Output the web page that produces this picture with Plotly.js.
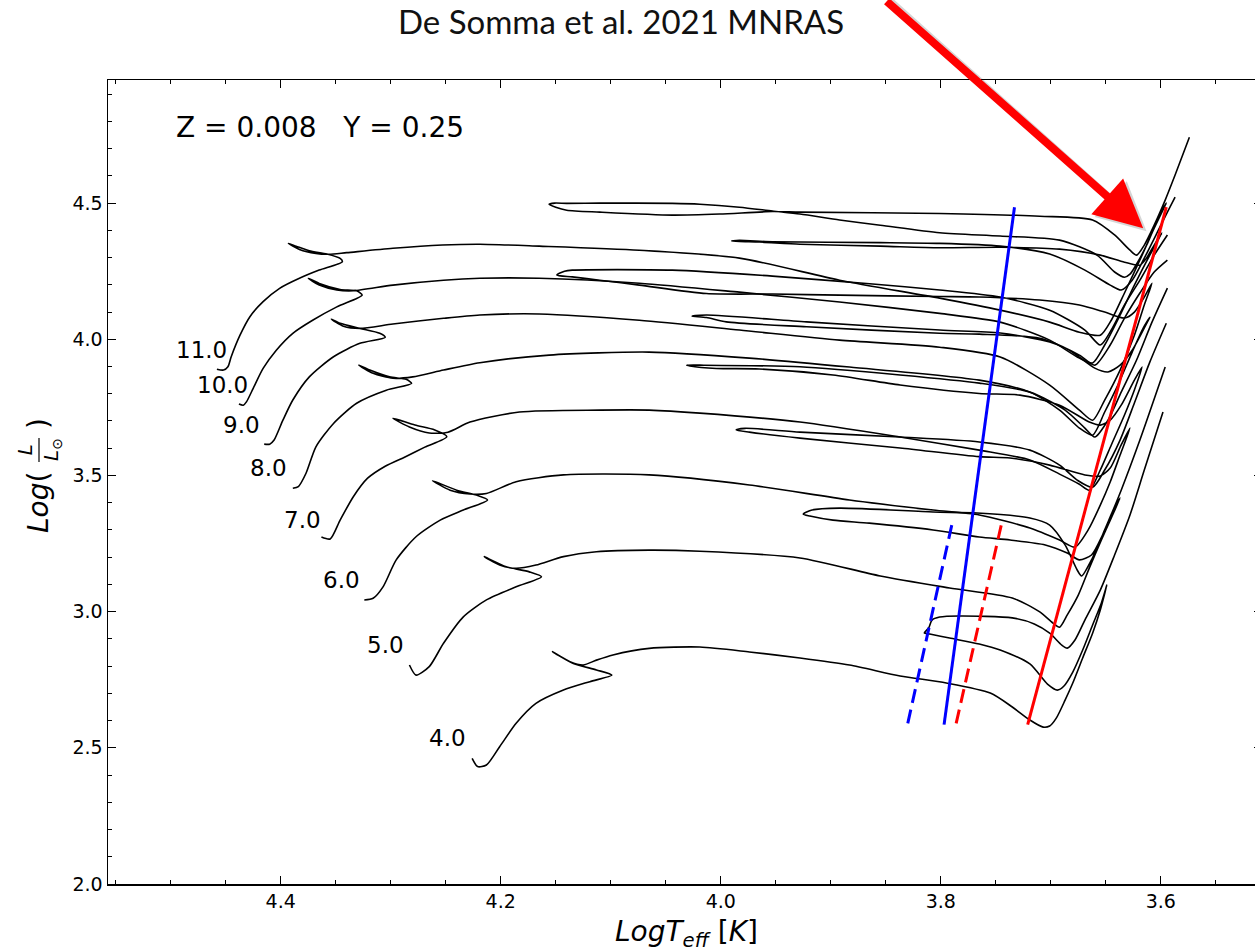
<!DOCTYPE html>
<html>
<head>
<meta charset="utf-8">
<script src="https://cdn.plot.ly/plotly-3.0.1.min.js"></script>
<style>
  html, body { margin: 0; padding: 0; overflow: hidden; background: #ffffff; }
  #hr { width: 1265px; height: 951px; }
</style>
</head>
<body>
<div id="hr"></div>
<script>
// Evolutionary tracks, Z = 0.008, Y = 0.25 (log Teff, log L/Lsun)
const m4_logT = [4.226,4.221,4.213,4.201,4.186,4.168,4.143,4.119,4.099, 4.113,4.134,4.153, 4.137,4.125,4.113,4.098,4.065,
  4.019,3.974,3.928,3.883,3.837,3.795,3.755,3.735,3.719,3.707, 3.701,3.695,3.687,3.680,3.671,3.662,3.655,3.649,
  3.654,3.662,3.671,3.680,3.688,3.694,3.703,3.719,3.746,3.765,3.792,3.810,3.815,
  3.811,3.808,3.801,3.783,3.735,3.715,3.701,3.690,3.685, 3.678,3.669,3.655,3.642,3.628,3.615,3.598];
const m4_logL = [2.461,2.431,2.437,2.504,2.590,2.663,2.712,2.743,2.767, 2.786,2.810,2.853, 2.816,2.804,2.822,2.841,2.865,
  2.870,2.852,2.830,2.804,2.764,2.738,2.701,2.650,2.602,2.576, 2.580,2.609,2.675,2.738,2.830,2.921,3.006,3.098,
  3.032,2.951,2.859,2.778,2.727,2.712,2.734,2.808,2.859,2.881,2.903,2.918,2.922,
  2.940,2.969,2.980,2.984,2.977,2.955,2.921,2.877,2.866, 2.896,2.969,3.079,3.208,3.355,3.520,3.733];

const m5_logT = [4.283,4.277,4.265,4.252,4.234,4.213,4.186,4.163, 4.174,4.195,4.215, 4.201,4.186,4.168,4.143,4.113,4.065,
  4.019,3.928,3.855,3.792,3.735,3.710,3.698,3.692, 3.685,3.675,3.665,3.654,3.645,3.637,
  3.644,3.653,3.663,3.674,3.685,3.705,3.737,3.765,3.807,3.865,3.898,3.919,3.925,
  3.917,3.892,3.807,3.767,3.719,3.701,3.687,3.676,3.672, 3.663,3.651,3.636,3.619,3.596];
const m5_logL = [2.804,2.767,2.798,2.884,2.981,3.043,3.091,3.128, 3.146,3.165,3.202, 3.171,3.159,3.171,3.202,3.220,3.226,
  3.222,3.197,3.131,3.087,3.050,2.999,2.958,2.943, 2.988,3.061,3.160,3.263,3.344,3.417,
  3.366,3.281,3.208,3.190,3.215,3.245,3.263,3.274,3.300,3.325,3.336,3.351,3.358,
  3.373,3.380,3.366,3.362,3.344,3.318,3.245,3.153,3.131, 3.190,3.300,3.446,3.630,3.898];

const m6_logT = [4.324,4.316,4.307,4.295,4.277,4.255,4.234,4.212, 4.222,4.240,4.262, 4.246,4.228,4.213,4.186,4.143,4.065,
  3.974,3.883,3.807,3.765,3.719,3.692,3.678, 3.666,3.655,3.646,3.637,3.628,
  3.636,3.646,3.655,3.669,3.701,3.737,3.765,3.837,3.928,3.974,3.986,
  3.978,3.928,3.837,3.765,3.719,3.692,3.676,3.662, 3.651,3.637,3.624,3.610,3.595];
const m6_logL = [3.043,3.049,3.091,3.190,3.275,3.336,3.373,3.410, 3.428,3.446,3.481, 3.446,3.432,3.434,3.477,3.502,3.502,
  3.465,3.410,3.373,3.355,3.307,3.263,3.237, 3.300,3.391,3.476,3.575,3.674,
  3.612,3.527,3.498,3.502,3.538,3.564,3.569,3.601,3.637,3.659,3.667,
  3.673,3.659,3.641,3.623,3.593,3.538,3.483,3.457, 3.520,3.630,3.766,3.916,4.059];

const m7_logT = [4.363,4.355,4.346,4.334,4.321,4.305,4.287,4.269,4.249, 4.260,4.278,4.298, 4.283,4.265,4.248,4.228,4.183,4.110,4.065,
  4.019,3.928,3.837,3.765,3.719,3.692,3.674,3.665, 3.655,3.645,3.633,3.624,3.617,
  3.624,3.636,3.646,3.655,3.665,3.692,3.728,3.765,3.837,3.898,3.965,4.004,4.028,4.031,
  4.019,3.928,3.837,3.765,3.719,3.687,3.669,3.660, 3.648,3.636,3.622,3.608,3.594];
const m7_logL = [3.274,3.267,3.336,3.422,3.490,3.534,3.568,3.604,3.642, 3.667,3.685,3.710, 3.678,3.656,3.659,3.696,3.733,3.740,3.740,
  3.729,3.696,3.641,3.593,3.557,3.505,3.468,3.446, 3.520,3.612,3.722,3.814,3.898,
  3.850,3.758,3.703,3.685,3.696,3.758,3.795,3.801,3.832,3.869,3.891,3.893,3.902,3.905,
  3.905,3.899,3.869,3.839,3.806,3.740,3.674,3.641, 3.703,3.806,3.924,4.063,4.188];

const m8_logT = [4.389,4.384,4.377,4.368,4.352,4.331,4.304,4.281, 4.286,4.301,4.319,4.329, 4.316,4.298,4.280,4.252,4.219,4.156,4.065,
  3.974,3.883,3.765,3.719,3.692,3.674,3.662, 3.651,3.639,3.626,3.616,3.610,
  3.616,3.626,3.637,3.648,3.660,3.683,3.710,3.765,3.801,3.922,3.995,4.013,4.026,
  4.013,3.922,3.801,3.746,3.701,3.674,3.660, 3.646,3.633,3.619,3.606,3.594];
const m8_logL = [3.453,3.459,3.508,3.605,3.691,3.765,3.813,3.838, 3.853,3.862,3.887,3.905, 3.875,3.857,3.862,3.887,3.914,3.942,3.953,
  3.931,3.898,3.850,3.806,3.740,3.674,3.648, 3.733,3.832,3.953,4.041,4.081,
  4.034,3.960,3.905,3.880,3.894,3.960,4.004,4.019,4.022,4.046,4.064,4.080,4.085,
  4.089,4.064,4.034,4.023,3.990,3.942,3.905, 3.979,4.078,4.170,4.247,4.291];

const m9_logT = [4.415,4.410,4.406,4.398,4.389,4.374,4.352,4.328,4.305, 4.310,4.328,4.346,4.354, 4.343,4.328,4.298,4.252,4.219,
  4.165,4.074,3.983,3.892,3.801,3.746,3.701,3.674,3.662, 3.651,3.637,3.624,3.615,3.608,
  3.615,3.624,3.633,3.651,3.674,3.710,3.765,3.801,3.892,3.953,4.013,4.074,4.110,4.135,4.149,
  4.142,4.135,4.044,3.953,3.862,3.801,3.746,3.701,3.669,3.655, 3.645,3.633,3.619,3.606,3.594];
const m9_logL = [3.615,3.615,3.630,3.703,3.777,3.862,3.936,3.985,4.007, 4.022,4.040,4.059,4.074, 4.048,4.040,4.056,4.077,4.089,
  4.093,4.070,4.034,3.997,3.971,3.935,3.832,3.740,3.703, 3.777,3.887,4.015,4.126,4.206,
  4.155,4.100,4.078,4.100,4.126,4.144,4.155,4.157,4.162,4.166,4.168,4.199,4.217,4.229,4.236,
  4.250,4.254,4.254,4.232,4.203,4.181,4.155,4.107,4.034,3.979, 4.034,4.126,4.217,4.309,4.383];

const m10_logT = [4.438,4.434,4.431,4.425,4.416,4.404,4.389,4.371,4.349,4.326, 4.331,4.346,4.365,4.375, 4.365,4.349,4.334,4.298,4.252,4.219,
  4.165,4.074,3.983,3.892,3.801,3.746,3.701,3.674,3.662, 3.651,3.637,3.624,3.610,3.599,
  3.606,3.613,3.619,3.633,3.655,3.692,3.746,3.801,3.855,3.928,3.965,3.983,3.990,
  3.983,3.953,3.855,3.801,3.746,3.701,3.669,3.646,3.636, 3.626,3.615,3.603,3.594,3.587];
const m10_logL = [3.762,3.758,3.771,3.820,3.893,3.960,4.022,4.070,4.119,4.162, 4.178,4.183,4.205,4.224, 4.199,4.181,4.178,4.199,4.217,4.224,
  4.224,4.206,4.173,4.137,4.095,4.063,3.997,3.931,3.913, 3.979,4.089,4.199,4.309,4.390,
  4.346,4.298,4.272,4.283,4.309,4.331,4.338,4.336,4.342,4.349,4.357,4.359,4.361,
  4.363,4.358,4.355,4.352,4.342,4.313,4.254,4.199,4.181, 4.217,4.298,4.394,4.467,4.522];

const m11_logT = [4.458,4.452,4.448,4.445,4.437,4.428,4.416,4.401,4.383,4.365,4.344, 4.346,4.358,4.374,4.386,4.393,
  4.383,4.368,4.356,4.340,4.298,4.253,4.219,
  4.165,4.074,3.983,3.892,3.801,3.746,3.701,3.674,3.655, 3.645,3.633,3.619,3.606,3.595,
  3.603,3.612,3.621,3.628,3.633,3.642,3.658,3.692,3.746,3.801,3.855,3.892,3.928,3.953,3.983,4.019,4.044,4.110,4.140,4.151,4.156,
  4.150,4.140,4.110,4.044,4.001,3.953,3.928,3.801,3.710,3.662,3.642,3.628,3.622, 3.615,3.606,3.596,3.587,3.574];
const m11_logL = [3.890,3.887,3.899,3.936,4.015,4.083,4.138,4.187,4.224,4.254,4.285, 4.297,4.313,4.325,4.342,4.352,
  4.330,4.315,4.312,4.318,4.334,4.346,4.349,
  4.342,4.327,4.298,4.217,4.151,4.107,4.063,4.026,4.015, 4.070,4.170,4.291,4.408,4.500,
  4.438,4.353,4.283,4.239,4.228,4.247,4.309,4.364,4.379,4.391,4.419,4.438,4.460,4.471,4.485,4.496,4.499,4.500,4.499,4.500,4.496,
  4.485,4.474,4.467,4.456,4.460,4.469,4.467,4.462,4.452,4.438,4.383,4.327,4.309, 4.346,4.419,4.511,4.603,4.742];

// Instability strip edges (solid: one boundary set, dashed: the other)
const blueEdge_logT = [3.797, 3.733];
const blueEdge_logL = [2.585, 4.485];
const redEdge_logT  = [3.721, 3.595];
const redEdge_logL  = [2.585, 4.485];
const blueDash_logT = [3.830, 3.789];
const blueDash_logL = [2.590, 3.336];
const redDash_logT  = [3.786, 3.744];
const redDash_logL  = [2.590, 3.336];

// Mass labels (Msun) placed next to each ZAMS start
const massLabels = ['4.0','5.0','6.0','7.0','8.0','9.0','10.0','11.0'];
const massLabel_logT = [4.248, 4.305, 4.345, 4.380, 4.411, 4.436, 4.453, 4.472];
const massLabel_logL = [2.536, 2.877, 3.116, 3.336, 3.527, 3.685, 3.832, 3.960];

const trackT = [m4_logT, m5_logT, m6_logT, m7_logT, m8_logT, m9_logT, m10_logT, m11_logT];
const trackL = [m4_logL, m5_logL, m6_logL, m7_logL, m8_logL, m9_logL, m10_logL, m11_logL];

const W = 1265, H = 951;
const M = { l: 108, r: 3, t: 80, b: 67 };
const paperX = x => (x - M.l) / (W - M.l - M.r);
const paperY = y => (H - M.b - y) / (H - M.t - M.b);

const traces = [];
trackT.forEach((t, i) => {
  traces.push({
    x: t, y: trackL[i], type: 'scatter', mode: 'lines',
    line: { color: '#000000', width: 1.6, shape: 'spline', smoothing: 0.7 },
    hoverinfo: 'skip', showlegend: false
  });
});
function edge(x, y, color, dash) {
  return { x: x, y: y, type: 'scatter', mode: 'lines',
    line: { color: color, width: 3, dash: dash }, hoverinfo: 'skip', showlegend: false };
}
traces.push(edge(blueDash_logT, blueDash_logL, '#0000ff', '14px,7px'));
traces.push(edge(redDash_logT, redDash_logL, '#ff0000', '14px,7px'));
traces.push(edge(blueEdge_logT, blueEdge_logL, '#0000ff', 'solid'));
traces.push(edge(redEdge_logT, redEdge_logL, '#ff0000', 'solid'));

const annotations = massLabels.map((s, i) => ({
  x: massLabel_logT[i], y: massLabel_logL[i], xref: 'x', yref: 'y',
  text: s, showarrow: false, xanchor: 'center', yanchor: 'middle',
  font: { family: 'DejaVu Sans', size: 23, color: '#000' }
}));

annotations.push({
  xref: 'paper', yref: 'paper', x: paperX(320), y: paperY(128),
  text: 'Z = 0.008\u00a0\u00a0\u00a0Y = 0.25', showarrow: false,
  xanchor: 'center', yanchor: 'middle',
  font: { family: 'DejaVu Sans', size: 28, color: '#000' }
});

// axis titles
annotations.push({
  xref: 'paper', yref: 'paper', x: paperX(686), y: paperY(933),
  text: '<i>LogT<sub>eff</sub></i> [<i>K</i>]', showarrow: false,
  xanchor: 'center', yanchor: 'middle',
  font: { family: 'DejaVu Sans', size: 28, color: '#000' }
});
annotations.push({
  xref: 'paper', yref: 'paper', x: paperX(38), y: paperY(503),
  text: '<i>Log</i>(', showarrow: false, textangle: -90,
  xanchor: 'center', yanchor: 'middle',
  font: { family: 'DejaVu Sans', size: 28, color: '#000' }
});
annotations.push({
  xref: 'paper', yref: 'paper', x: paperX(39), y: paperY(450),
  text: '<i>L</i><br><i>L</i><sub>\u2299</sub>', showarrow: false, textangle: -90,
  xanchor: 'center', yanchor: 'middle',
  font: { family: 'DejaVu Sans', size: 20, color: '#000' }
});
annotations.push({
  xref: 'paper', yref: 'paper', x: paperX(38), y: paperY(424),
  text: ')', showarrow: false, textangle: -90,
  xanchor: 'center', yanchor: 'middle',
  font: { family: 'DejaVu Sans', size: 28, color: '#000' }
});

// pointer arrow onto the red edge
annotations.push({
  x: 3.613, y: 4.397, xref: 'x', yref: 'y', ax: -258, ay: -262,
  text: '', showarrow: true, arrowhead: 2, arrowsize: 1.2, arrowwidth: 8,
  arrowcolor: 'rgba(0,0,0,0.16)', standoff: 0
});
annotations.push({
  x: 3.616, y: 4.408, xref: 'x', yref: 'y', ax: -258, ay: -262,
  text: '', showarrow: true, arrowhead: 2, arrowsize: 1.2, arrowwidth: 8,
  arrowcolor: '#ff0000', standoff: 0
});

const shapes = [{
  type: 'line', xref: 'paper', yref: 'paper',
  x0: paperX(39), x1: paperX(39), y0: paperY(438), y1: paperY(462),
  line: { color: '#000', width: 1.2 }
}];

const axisCommon = {
  showgrid: false, zeroline: false, showline: true, linecolor: '#000', linewidth: 1.5,
  mirror: 'allticks', ticks: 'inside', ticklen: 8, tickwidth: 1.2, tickcolor: '#000',
  tickformat: '.1f', tickfont: { family: 'DejaVu Sans', size: 19, color: '#000' }
};

const layout = {
  width: W, height: H,
  margin: M,
  paper_bgcolor: '#ffffff', plot_bgcolor: '#ffffff',
  title: {
    text: 'De Somma et al. 2021 MNRAS', xref: 'container', yref: 'container',
    x: 621 / W, xanchor: 'center', y: 1 - 22 / H, yanchor: 'middle',
    font: { family: 'Lato', size: 33, color: '#111' }
  },
  xaxis: Object.assign({}, axisCommon, {
    range: [4.557, 3.508], tick0: 0, dtick: 0.2,
    minor: { dtick: 0.05, ticks: 'inside', ticklen: 4, tickwidth: 1, tickcolor: '#000' }
  }),
  yaxis: Object.assign({}, axisCommon, {
    range: [2.0, 4.952], tick0: 0, dtick: 0.5,
    minor: { dtick: 0.1, ticks: 'inside', ticklen: 4, tickwidth: 1, tickcolor: '#000' }
  }),
  annotations: annotations,
  shapes: shapes,
  showlegend: false
};

Plotly.newPlot('hr', traces, layout, { staticPlot: true, displayModeBar: false });
</script>
</body>
</html>
